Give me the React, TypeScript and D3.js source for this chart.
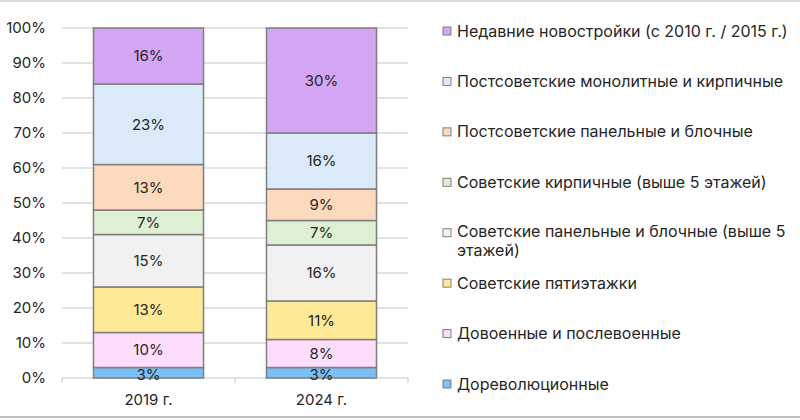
import * as d3 from 'd3';

const years = ['2019 г.', '2024 г.'];
const seriesNames = [
  'Дореволюционные',
  'Довоенные и послевоенные',
  'Советские пятиэтажки',
  'Советские панельные и блочные (выше 5 этажей)',
  'Советские кирпичные (выше 5 этажей)',
  'Постсоветские панельные и блочные',
  'Постсоветские монолитные и кирпичные',
  'Недавние новостройки (с 2010 г. / 2015 г.)',
];
const values2019 = [3, 10, 13, 15, 7, 13, 23, 16];
const values2024 = [3, 8, 11, 16, 7, 9, 16, 30];
const colors = ['#7BBFF7', '#FCDDFB', '#FEE996', '#F1F1F1', '#DDF0D3', '#FDD9BD', '#DAEAF9', '#D3A5F2'];
const yTicks = [0, 10, 20, 30, 40, 50, 60, 70, 80, 90, 100];

const W = 800;
const H = 420;
const FONT = 'Inter, "Noto Sans", sans-serif';

export default function App() {
  const x = d3.scaleBand().domain(years).range([62, 408]).paddingInner(0.364).paddingOuter(0.182);
  const y = d3.scaleLinear().domain([0, 100]).range([378, 28]);

  const rows = years.map((yr, i) => {
    const vals = i === 0 ? values2019 : values2024;
    const obj: any = { year: yr };
    seriesNames.forEach((s, j) => (obj[s] = vals[j]));
    return obj;
  });
  const stacked = d3.stack().keys(seriesNames)(rows);

  const legendY = d3.scaleLinear().domain([0, 7]).range([31, 384]);
  const legendItems = seriesNames.slice().reverse();

  return (
    <svg width={W} height={H} style={{ position: 'absolute', left: 0, top: 0, background: '#fff' }} fontFamily={FONT}>
      <line x1={0} x2={W} y1={1} y2={1} stroke="#d9d9d9" strokeWidth={2} />
      <line x1={0} x2={W} y1={417} y2={417} stroke="#bfbfbf" strokeWidth={2} />
      {yTicks.map(t => (
        <g key={t}>
          {t > 0 && <line x1={62} x2={408} y1={y(t)} y2={y(t)} stroke="#d9d9d9" strokeWidth={1.5} />}
          <text x={46} y={y(t)} dy="0.35em" textAnchor="end" fontSize={15} fill="#262626">{t}%</text>
        </g>
      ))}
      <line x1={62} x2={408} y1={y(0)} y2={y(0)} stroke="#d9d9d9" strokeWidth={1.5} />
      {[62, 235, 408].map(tx => (
        <line key={tx} x1={tx} x2={tx} y1={y(0)} y2={y(0) + 5} stroke="#d9d9d9" strokeWidth={1.5} />
      ))}
      {stacked.map((layer, li) =>
        layer.map((d, di) => {
          const x0 = x(years[di]) as number;
          const y0 = y(d[1]);
          const h = y(d[0]) - y(d[1]);
          return (
            <g key={`${li}-${di}`}>
              <rect x={x0} y={y0} width={x.bandwidth()} height={h} fill={colors[li]} stroke="#7f7f7f" strokeWidth={1.5} />
              <text x={x0 + x.bandwidth() / 2} y={y0 + h / 2 + (h < 12 ? 2 : 0)} dy="0.35em" textAnchor="middle" fontSize={15} fill="#262626">
                {d[1] - d[0]}%
              </text>
            </g>
          );
        })
      )}
      {years.map(yr => (
        <text key={yr} x={(x(yr) as number) + x.bandwidth() / 2} y={400} dy="0.35em" textAnchor="middle" fontSize={15} fill="#262626">{yr}</text>
      ))}
      {legendItems.map((name, i) => {
        const ci = seriesNames.length - 1 - i;
        const cy = legendY(i);
        const wrap = name.startsWith('Советские панельные');
        const lines = wrap ? ['Советские панельные и блочные (выше 5', 'этажей)'] : [name];
        return (
          <g key={name}>
            <rect x={443} y={cy - 4} width={8} height={8} fill={colors[ci]} stroke="#7f7f7f" strokeWidth={1} />
            {lines.map((ln, k) => (
              <text key={k} x={457} y={cy - (wrap ? 1 : 0) + k * 19} dy="0.35em" fontSize={16} fill="#262626">{ln}</text>
            ))}
          </g>
        );
      })}
    </svg>
  );
}
